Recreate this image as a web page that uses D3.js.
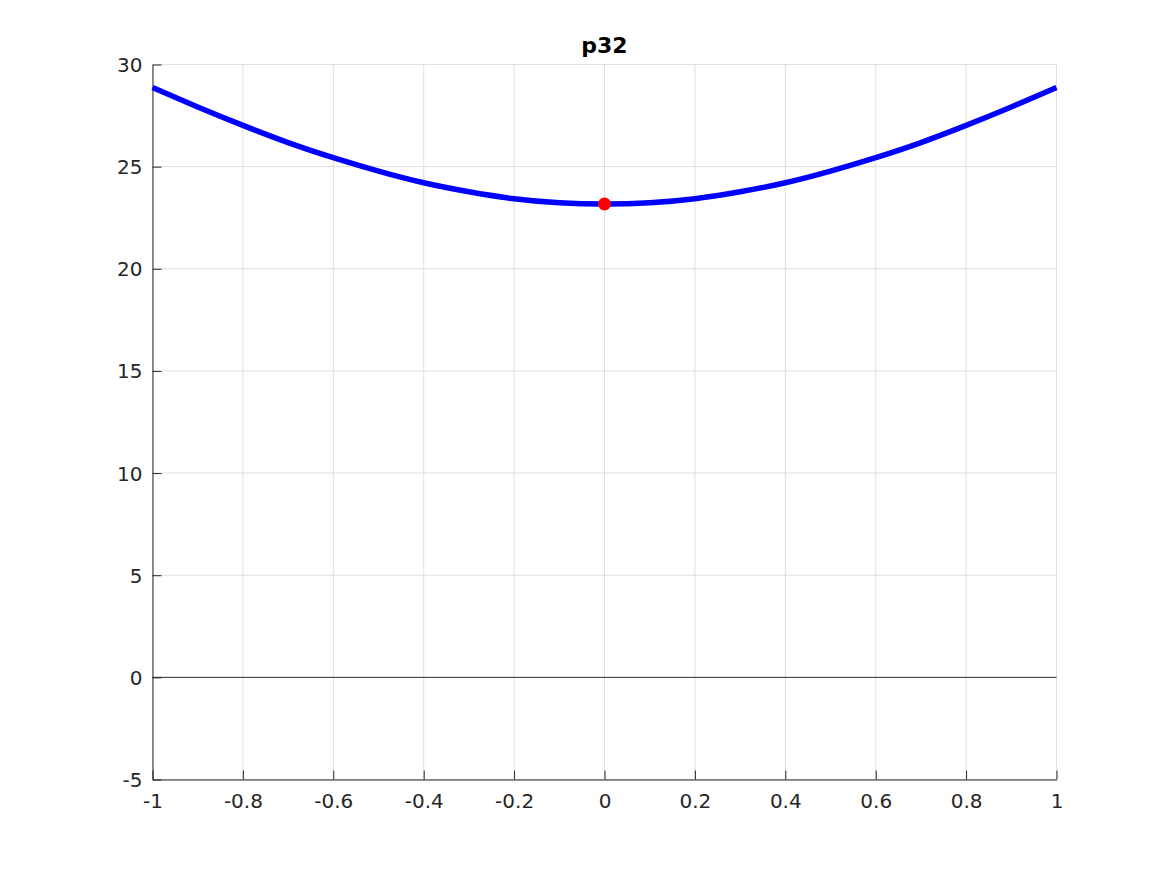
<!DOCTYPE html>
<html>
<head>
<meta charset="utf-8">
<script src="https://cdn.jsdelivr.net/npm/d3@7"></script>
<style>
    body { margin: 0; background: #fff; }
    svg { display: block; font-family: "DejaVu Sans", sans-serif; }
</style>
</head>
<body>
<svg id="chart" width="1167" height="875"></svg>
<script>
// values
const xValues = [-1, -0.9, -0.8, -0.7, -0.6, -0.5, -0.4, -0.3, -0.2, -0.1, 0,
                 0.1, 0.2, 0.3, 0.4, 0.5, 0.6, 0.7, 0.8, 0.9, 1];
const yValues = [28.87, 27.92, 27.02, 26.18, 25.44, 24.78, 24.21, 23.77, 23.43, 23.23, 23.17,
                 23.23, 23.43, 23.77, 24.21, 24.78, 25.44, 26.18, 27.02, 27.92, 28.87];
const minPoint = { x: 0, y: 23.17 };
const xTicks = [-1, -0.8, -0.6, -0.4, -0.2, 0, 0.2, 0.4, 0.6, 0.8, 1];
const yTicks = [-5, 0, 5, 10, 15, 20, 25, 30];
const title = "p32";

const svg = d3.select("#chart");
const margin = { left: 152.5, right: 1167 - 1056.5, top: 64.5, bottom: 875 - 779.5 };
const width = 1167 - margin.left - margin.right;
const height = 875 - margin.top - margin.bottom;

const x = d3.scaleLinear().domain([-1, 1]).range([0, width]);
const y = d3.scaleLinear().domain([-5, 30]).range([height, 0]);

const g = svg.append("g")
    .attr("transform", `translate(${margin.left},${margin.top})`);

// grid
g.append("g")
    .selectAll("line")
    .data(xTicks)
    .enter().append("line")
    .attr("x1", d => x(d)).attr("x2", d => x(d))
    .attr("y1", 0).attr("y2", height)
    .style("stroke", "#dfdfdf")
    .style("stroke-width", "1px");

g.append("g")
    .selectAll("line")
    .data(yTicks)
    .enter().append("line")
    .attr("x1", 0).attr("x2", width)
    .attr("y1", d => y(d)).attr("y2", d => y(d))
    .style("stroke", "#dfdfdf")
    .style("stroke-width", "1px");

// zero line
g.append("line")
    .attr("x1", 0).attr("x2", width)
    .attr("y1", y(0)).attr("y2", y(0))
    .style("stroke", "#333")
    .style("stroke-width", "1px");

// axes, ticks pointing inward, plain hyphen for negatives
const fmt = d => String(d);

const xAxis = g.append("g")
    .attr("transform", `translate(0,${height})`)
    .call(d3.axisBottom(x).tickValues(xTicks).tickSizeInner(-9).tickSizeOuter(0).tickFormat(fmt));

const yAxis = g.append("g")
    .call(d3.axisLeft(y).tickValues(yTicks).tickSizeInner(-9).tickSizeOuter(0).tickFormat(fmt));

[xAxis, yAxis].forEach(a => {
    a.select(".domain").style("stroke", "#262626").style("stroke-width", "1px");
    a.selectAll(".tick line").style("stroke", "#262626");
    a.selectAll(".tick text")
        .style("fill", "#262626")
        .style("font-size", "20px")
        .style("font-family", "'DejaVu Sans', sans-serif");
});
xAxis.selectAll(".tick text").attr("y", 28.5).attr("dy", 0);
yAxis.selectAll(".tick text").attr("x", -10).attr("dy", "0.35em");

// curve
const data = xValues.map((v, i) => ({ x: v, y: yValues[i] }));
const line = d3.line()
    .x(d => x(d.x))
    .y(d => y(d.y))
    .curve(d3.curveNatural);

g.append("path")
    .datum(data)
    .attr("d", line)
    .style("fill", "none")
    .style("stroke", "#0000ff")
    .style("stroke-width", "5.5px");

g.append("circle")
    .attr("cx", x(minPoint.x))
    .attr("cy", y(minPoint.y))
    .attr("r", 6.5)
    .style("fill", "#ff0000");

// title
svg.append("text")
    .attr("x", margin.left + width / 2)
    .attr("y", 53)
    .attr("text-anchor", "middle")
    .style("font-size", "22px")
    .style("font-weight", "bold")
    .style("fill", "#000")
    .text(title);
</script>
</body>
</html>
